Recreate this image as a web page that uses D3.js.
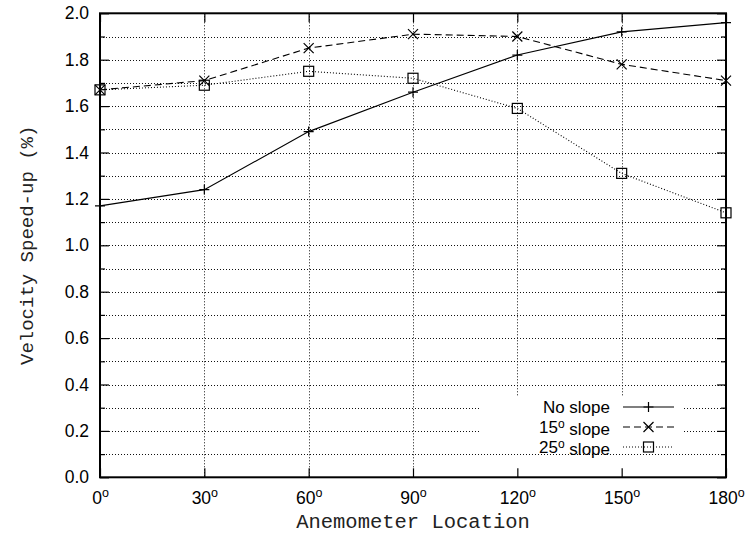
<!DOCTYPE html>
<html>
<head>
<meta charset="utf-8">
<script src="https://cdn.jsdelivr.net/npm/d3@7"></script>
<style>
  html, body { margin: 0; padding: 0; background: #fff; }
  svg { display: block; }
  .tick text { font-family: "Liberation Sans", Arial, sans-serif; font-size: 17.5px; fill: #000; }
</style>
</head>
<body>
<svg id="chart" width="745" height="540"></svg>
<script>
// Anemometer positions (degrees) and measured speed-up for each slope case
const angles = [0, 30, 60, 90, 120, 150, 180];
const noSlope = [1.17, 1.24, 1.49, 1.66, 1.82, 1.92, 1.96];
const slope15 = [1.67, 1.71, 1.85, 1.91, 1.90, 1.78, 1.71];
const slope25 = [1.67, 1.69, 1.75, 1.72, 1.59, 1.31, 1.14];

const yMajorTicks = [0, 0.2, 0.4, 0.6, 0.8, 1.0, 1.2, 1.4, 1.6, 1.8, 2.0];
const yMinorTicks = [0.1, 0.3, 0.5, 0.7, 0.9, 1.1, 1.3, 1.5, 1.7, 1.9];
const xTicks = [0, 30, 60, 90, 120, 150, 180];

const seriesNames = ["No slope", "15", "25"];

const svg = d3.select("#chart");
const plotLeft = 100, plotRight = 726, plotTop = 13.3, plotBottom = 477.3;

const x = d3.scaleLinear().domain([0, 180]).range([plotLeft, plotRight]);
const y = d3.scaleLinear().domain([0, 2]).range([plotBottom, plotTop]);

// Key area: grid lines are kept clear of it
const keyBox = { x0: 480, x1: 684, y0: 397, y1: 450 };

// Grid
const grid = svg.append("g")
  .attr("fill", "none")
  .attr("stroke", "#111")
  .attr("stroke-width", 1)
  .attr("stroke-dasharray", "1,2");

const gridY = yMajorTicks.concat(yMinorTicks).filter(v => v > 0 && v < 2);
gridY.forEach(v => {
  const yy = Math.round(y(v)) + 0.5;
  if (yy > keyBox.y0 && yy < keyBox.y1) {
    grid.append("path").attr("d", `M${plotLeft},${yy}H${keyBox.x0}`);
    grid.append("path").attr("d", `M${keyBox.x1},${yy}H${plotRight}`);
  } else {
    grid.append("path").attr("d", `M${plotLeft},${yy}H${plotRight}`);
  }
});
xTicks.filter(v => v > 0 && v < 180).forEach(v => {
  const xx = Math.round(x(v)) + 0.5;
  const yEnd = (xx > keyBox.x0 && xx < keyBox.x1) ? keyBox.y0 : plotBottom;
  grid.append("path").attr("d", `M${xx},${plotTop}V${yEnd}`);
});

// Axes with inward ticks
const axisStyle = g => {
  g.select(".domain").remove();
  g.selectAll(".tick line").attr("stroke", "#000").attr("stroke-width", 1.2);
};

svg.append("g").attr("transform", `translate(${plotLeft},0)`)
  .call(d3.axisLeft(y).tickValues(yMajorTicks).tickSize(-9).tickPadding(11).tickFormat(d3.format(".1f")))
  .call(axisStyle);
svg.append("g").attr("transform", `translate(${plotLeft},0)`)
  .call(d3.axisLeft(y).tickValues(yMinorTicks).tickSize(-5).tickFormat(""))
  .call(axisStyle);
svg.append("g").attr("transform", `translate(${plotRight},0)`)
  .call(d3.axisRight(y).tickValues(yMajorTicks).tickSize(-9).tickFormat(""))
  .call(axisStyle);
svg.append("g").attr("transform", `translate(${plotRight},0)`)
  .call(d3.axisRight(y).tickValues(yMinorTicks).tickSize(-5).tickFormat(""))
  .call(axisStyle);

const xAxis = svg.append("g").attr("transform", `translate(0,${plotBottom})`)
  .call(d3.axisBottom(x).tickValues(xTicks).tickSize(-9).tickPadding(14))
  .call(axisStyle);
xAxis.selectAll(".tick text").each(function(d) {
  const t = d3.select(this);
  t.text(null);
  t.append("tspan").text(d);
  t.append("tspan").attr("dy", "-0.5em").style("font-size", "12.5px").text("o");
});
svg.append("g").attr("transform", `translate(0,${plotTop})`)
  .call(d3.axisTop(x).tickValues(xTicks).tickSize(-9).tickFormat(""))
  .call(axisStyle);

// Frame
svg.append("rect")
  .attr("x", plotLeft).attr("y", plotTop)
  .attr("width", plotRight - plotLeft).attr("height", plotBottom - plotTop)
  .attr("fill", "none").attr("stroke", "#000").attr("stroke-width", 2);

// Axis titles
const monoFont = "'Liberation Mono', 'Courier New', monospace";
svg.append("text")
  .attr("x", (plotLeft + plotRight) / 2).attr("y", 528)
  .attr("text-anchor", "middle")
  .attr("fill", "#222")
  .style("font-family", monoFont)
  .style("font-size", "20.5px")
  .text("Anemometer Location");

svg.append("text")
  .attr("transform", `translate(33,${(plotTop + plotBottom) / 2}) rotate(-90)`)
  .attr("text-anchor", "middle")
  .attr("fill", "#222")
  .style("font-family", monoFont)
  .style("font-size", "19px")
  .text("Velocity Speed-up (%)");

// Series
const line = d3.line().x(d => x(d[0])).y(d => y(d[1]));
const series = [
  { name: seriesNames[0], values: noSlope, dash: null, marker: "plus" },
  { name: seriesNames[1], values: slope15, dash: "7,4", marker: "cross" },
  { name: seriesNames[2], values: slope25, dash: "1,2", marker: "square" }
];

function drawMarker(g, type, cx, cy) {
  const s = 5;
  if (type === "plus") {
    g.append("path").attr("d", `M${cx - s},${cy}H${cx + s}M${cx},${cy - s}V${cy + s}`);
  } else if (type === "cross") {
    g.append("path").attr("d", `M${cx - s},${cy - s}L${cx + s},${cy + s}M${cx - s},${cy + s}L${cx + s},${cy - s}`);
  } else {
    g.append("rect").attr("x", cx - s).attr("y", cy - s).attr("width", 2 * s).attr("height", 2 * s);
  }
}

const plot = svg.append("g").attr("fill", "none").attr("stroke", "#000");
series.forEach(s => {
  const pts = angles.map((a, i) => [a, s.values[i]]);
  plot.append("path")
    .attr("d", line(pts))
    .attr("stroke-width", 1.1)
    .attr("stroke-dasharray", s.dash);
  const mg = plot.append("g").attr("stroke-width", 1.2);
  pts.forEach(p => drawMarker(mg, s.marker, x(p[0]), y(p[1])));
});

// Key
const keyRows = [407, 427, 447];
const keyG = svg.append("g");
series.forEach((s, i) => {
  const ty = keyRows[i];
  const t = keyG.append("text")
    .attr("x", 610).attr("y", ty).attr("dy", "0.35em")
    .attr("text-anchor", "end")
    .style("font-family", "'Liberation Sans', Arial, sans-serif")
    .style("font-size", "17px");
  if (i === 0) {
    t.text(s.name);
  } else {
    t.append("tspan").text(s.name);
    t.append("tspan").attr("dy", "-0.4em").style("font-size", "12px").text("o");
    t.append("tspan").attr("dy", "0.4em").text(" slope");
  }
  keyG.append("path")
    .attr("d", `M623,${ty}H674`)
    .attr("fill", "none").attr("stroke", "#000").attr("stroke-width", 1.1)
    .attr("stroke-dasharray", s.dash);
  const mg = keyG.append("g").attr("fill", "none").attr("stroke", "#000").attr("stroke-width", 1.2);
  drawMarker(mg, s.marker, 648.5, ty);
});
</script>
</body>
</html>
